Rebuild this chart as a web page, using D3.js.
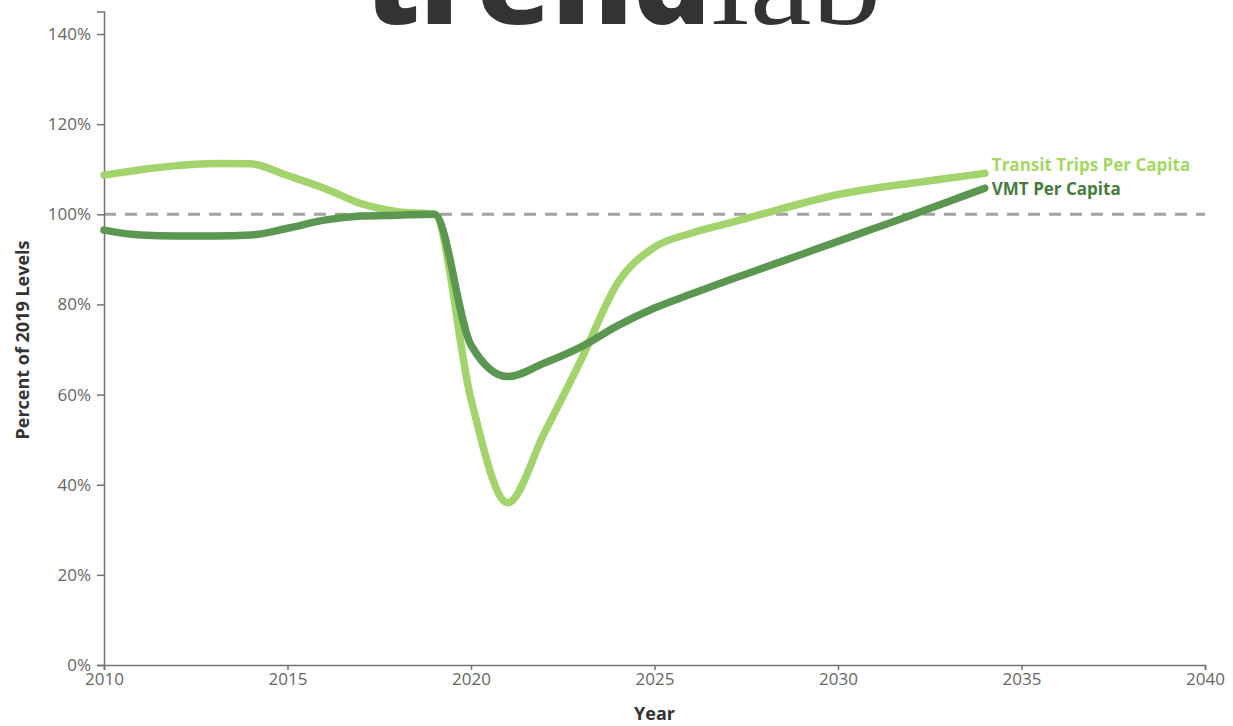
<!DOCTYPE html>
<html>
<head>
<meta charset="utf-8">
<script src="https://cdn.jsdelivr.net/npm/d3@7"></script>
<style>
  body { margin: 0; background: #fff; }
  svg { display: block; font-family: "Open Sans", sans-serif; }
  .axis path, .axis line { stroke: #7a6f6f; stroke-width: 1.5; }
  .axis text { fill: #666; font-size: 17px; font-family: "Open Sans", sans-serif; }
</style>
</head>
<body>
<div id="chart"></div>
<script>
// values (percent of 2019 levels)
var years = [2010, 2011, 2012, 2013, 2014, 2015, 2016, 2017, 2018, 2019,
             2020, 2021, 2022, 2023, 2024, 2025, 2026, 2027, 2028, 2029,
             2030, 2031, 2032, 2033, 2034];
var transit = [108.7, 109.9, 110.8, 111.3, 111.2, 108.6, 105.8, 102.4, 100.6, 100,
               59, 36, 51.5, 67.7, 84.8, 92.7, 95.8, 98, 100.2, 102.4,
               104.4, 105.8, 106.9, 108, 109.1];
var vmt = [96.5, 95.4, 95.2, 95.2, 95.4, 96.9, 98.7, 99.6, 99.8, 100,
           71, 64, 67, 70.6, 75.3, 79.2, 82.3, 85.3, 88.2, 91.1,
           94, 96.9, 99.8, 102.8, 105.8];
var seriesNames = ["Transit Trips Per Capita", "VMT Per Capita"];
var yTicks = [0, 20, 40, 60, 80, 100, 120, 140];
var xTicks = [2010, 2015, 2020, 2025, 2030, 2035, 2040];

var W = 1233, H = 726;
var margin = {top: 11.5, left: 104, right: 28, bottom: 61};
var width = W - margin.left - margin.right,
    height = H - margin.top - margin.bottom;

var svg = d3.select("#chart").append("svg")
  .attr("width", W)
  .attr("height", H);

// logo, cut off at the top
var logo = svg.append("text")
  .attr("x", 364)
  .attr("y", 24)
  .style("fill", "#333");
logo.append("tspan")
  .attr("font-family", "Open Sans, sans-serif")
  .attr("font-weight", 800)
  .attr("font-size", 112)
  .attr("textLength", 347)
  .attr("lengthAdjust", "spacingAndGlyphs")
  .text("trend");
logo.append("tspan")
  .attr("font-family", "Liberation Serif, serif")
  .attr("font-weight", 400)
  .attr("font-size", 112)
  .attr("textLength", 170)
  .attr("lengthAdjust", "spacingAndGlyphs")
  .text("lab");

var g = svg.append("g")
  .attr("transform", "translate(" + margin.left + "," + margin.top + ")");

var x = d3.scaleLinear().domain([2010, 2040]).range([0, width]);
var y = d3.scaleLinear().domain([0, 145]).range([height, 0]);

// 100% reference line
g.append("line")
  .attr("x1", x(2010)).attr("x2", x(2040))
  .attr("y1", y(100)).attr("y2", y(100))
  .attr("stroke", "#a3a3a3")
  .attr("stroke-width", 3)
  .attr("stroke-dasharray", "12,9");

g.append("g")
  .attr("class", "axis")
  .attr("transform", "translate(0," + height + ")")
  .call(d3.axisBottom(x).tickValues(xTicks).tickFormat(d3.format("d"))
        .tickSize(5).tickPadding(3));

g.append("g")
  .attr("class", "axis")
  .call(d3.axisLeft(y).tickValues(yTicks).tickFormat(function(d) { return d + "%"; })
        .tickSize(7).tickPadding(6));

var line = d3.line()
  .x(function(d, i) { return x(years[i]); })
  .y(function(d) { return y(d); })
  .curve(d3.curveMonotoneX);

var colors = ["#a3d36c", "#5c9751"];
var labelColors = ["#a6d765", "#4a7a3e"];

g.append("path")
  .datum(transit)
  .attr("fill", "none")
  .attr("stroke", colors[0])
  .attr("stroke-width", 7.5)
  .attr("stroke-linecap", "round")
  .attr("d", line);

g.append("path")
  .datum(vmt)
  .attr("fill", "none")
  .attr("stroke", colors[1])
  .attr("stroke-width", 7.5)
  .attr("stroke-linecap", "round")
  .attr("d", line);

// end labels
var last = years.length - 1;
g.append("text")
  .attr("x", x(years[last]) + 7)
  .attr("y", y(transit[last]) - 2)
  .attr("font-size", 17)
  .attr("font-weight", "bold")
  .attr("fill", labelColors[0])
  .text(seriesNames[0]);
g.append("text")
  .attr("x", x(years[last]) + 7)
  .attr("y", y(vmt[last]) + 7)
  .attr("font-size", 17)
  .attr("font-weight", "bold")
  .attr("fill", labelColors[1])
  .text(seriesNames[1]);

// axis titles
svg.append("text")
  .attr("transform", "translate(29," + 340 + ") rotate(-90)")
  .attr("text-anchor", "middle")
  .attr("font-size", 18)
  .attr("font-weight", "bold")
  .attr("fill", "#333")
  .text("Percent of 2019 Levels");

svg.append("text")
  .attr("x", margin.left + x(2025))
  .attr("y", 720)
  .attr("text-anchor", "middle")
  .attr("font-size", 18)
  .attr("font-weight", "bold")
  .attr("fill", "#333")
  .text("Year");
</script>
</body>
</html>
